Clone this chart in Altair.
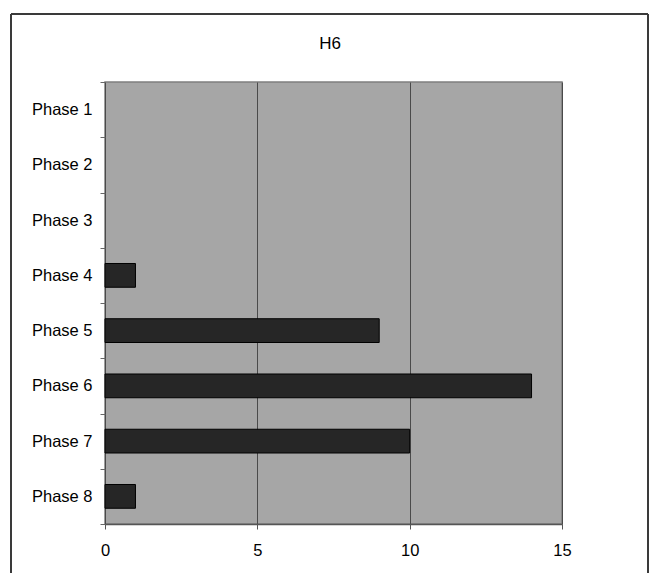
import altair as alt
import pandas as pd

# ---- data ----
title_text = "H6"
phases = ["Phase 1", "Phase 2", "Phase 3", "Phase 4",
          "Phase 5", "Phase 6", "Phase 7", "Phase 8"]
counts = [0, 0, 0, 1, 9, 14, 10, 1]
x_ticks = [0, 5, 10, 15]

df = pd.DataFrame({"phase": phases, "count": counts})
one = pd.DataFrame({"k": [0]})

FONT = "Liberation Sans"

bars = (
    alt.Chart(df)
    .transform_filter("datum.count > 0")
    .mark_bar(color="#262626", stroke="#000000", strokeWidth=1,
              height={"band": 0.43})
    .encode(
        y=alt.Y(
            "phase:N",
            scale=alt.Scale(domain=phases, paddingInner=0, paddingOuter=0),
            axis=alt.Axis(
                title=None, tickBand="extent", tickSize=5, tickColor="#666666",
                labelPadding=8, labelFontSize=16.5, labelFont=FONT,
                labelColor="#000000", domain=False, grid=False,
            ),
        ),
        x=alt.X(
            "count:Q",
            scale=alt.Scale(domain=[0, 15], nice=False),
            axis=alt.Axis(
                title=None, values=x_ticks, grid=True, gridColor="#4a4a4a",
                gridWidth=1, tickSize=5, tickColor="#555555", labelPadding=13,
                labelFontSize=16.5, labelFont=FONT, labelColor="#000000",
                labelFlush=False,
                domainColor="#555555", domainWidth=1.5,
            ),
        ),
    )
)

title = alt.Chart(one).mark_text(
    text=title_text, font=FONT, fontSize=17, color="#000000",
    align="center", baseline="middle",
).encode(x=alt.value(225), y=alt.value(-38))

frame_color = "#3a3a3a"
left = alt.Chart(one).mark_rule(color=frame_color, strokeWidth=2).encode(
    x=alt.value(-94), y=alt.value(-68), y2=alt.value(495))
top = alt.Chart(one).mark_rule(color=frame_color, strokeWidth=2).encode(
    x=alt.value(-94), x2=alt.value(543), y=alt.value(-68))
right = alt.Chart(one).mark_rule(color=frame_color, strokeWidth=2).encode(
    x=alt.value(543), y=alt.value(-68), y2=alt.value(495))

chart = (
    alt.layer(bars, title, left, top, right)
    .properties(
        width=457, height=442,
        padding={"left": 97, "top": 74, "right": 87, "bottom": 49},
        autosize="none",
        background="#ffffff",
    )
    .configure_view(fill="#a6a6a6", stroke="#7f7f7f", strokeWidth=1.5)
)

chart.save("out.html", embed_options={"renderer": "svg", "actions": False})
